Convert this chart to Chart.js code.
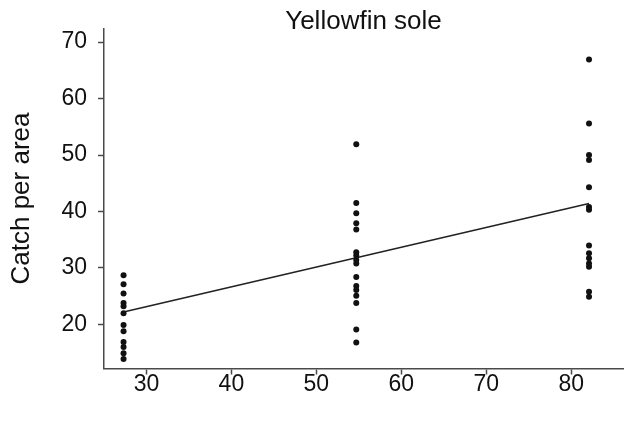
<!DOCTYPE html>
<html>
<head>
<meta charset="utf-8">
<script src="https://cdn.jsdelivr.net/npm/chart.js@4"></script>
<style>
  body { margin: 0; background: #fff; }
  #wrap { width: 627px; height: 421px; }
</style>
</head>
<body>
<div id="wrap"><canvas id="myChart"></canvas></div>
<script>
// depth (x) for each station group
const depths = [27.3, 54.7, 82.1];
// catch per area
const catchShallow = [28.7, 27.1, 25.5, 23.8, 23.2, 22.0, 19.9, 18.8, 16.9, 16.0, 14.9, 13.9];
const catchMid = [51.9, 41.5, 39.7, 37.9, 36.8, 32.8, 32.2, 31.4, 30.8, 28.4, 26.8, 26.1, 25.1, 23.8, 19.1, 16.8];
const catchDeep = [66.9, 55.6, 50.0, 49.1, 44.3, 40.8, 40.3, 34.0, 32.6, 31.7, 30.8, 30.2, 25.8, 24.9];
// fitted line end points
const fitX = [27.3, 82.1];
const fitY = [22.2, 41.4];
const xTicks = [30, 40, 50, 60, 70, 80];
const yTicks = [20, 30, 40, 50, 60, 70];

const points = [];
[catchShallow, catchMid, catchDeep].forEach((col, i) => {
	col.forEach(v => points.push({x: depths[i], y: v}));
});

const font = '"Liberation Sans", Arial, sans-serif';
const axisColor = '#4a4a4a';

const ctx = document.getElementById('myChart');
const plot = new Chart(ctx, {
	type: 'scatter',
	data: {
		datasets: [{
			label: 'catch',
			data: points,
			backgroundColor: '#111',
			borderWidth: 0,
			pointRadius: 3
		}, {
			label: 'fit',
			type: 'line',
			data: fitX.map((x, i) => ({x: x, y: fitY[i]})),
			borderColor: '#222',
			borderWidth: 1.6,
			pointRadius: 0,
			fill: false
		}]
	},
	options: {
		responsive: true,
		maintainAspectRatio: false,
		animation: false,
		layout: { padding: 0 },
		plugins: {
			legend: { display: false },
			tooltip: { enabled: false },
			title: {
				display: true,
				fullSize: false,
				text: 'Yellowfin sole',
				color: '#111',
				font: { family: font, size: 26, weight: 'normal', lineHeight: 0.5 },
				padding: { top: 15.5, bottom: 0 }
			}
		},
		scales: {
			x: {
				type: 'linear',
				min: 25,
				max: 86.1,
				afterBuildTicks: s => { s.ticks = xTicks.map(v => ({value: v})); },
				afterFit: s => { s.height = 52.5; },
				grid: { drawOnChartArea: false, drawTicks: true, tickLength: 6, tickColor: axisColor, tickWidth: 1.5 },
				border: { color: axisColor, width: 1.5 },
				ticks: { color: '#111', font: { family: font, size: 23 }, padding: -4, maxRotation: 0 }
			},
			y: {
				type: 'linear',
				min: 12.2,
				max: 72.4,
				afterBuildTicks: s => { s.ticks = yTicks.map(v => ({value: v})); },
				afterFit: s => { s.width = 104; },
				grid: { drawOnChartArea: false, drawTicks: true, tickLength: 6, tickColor: axisColor, tickWidth: 1.5 },
				border: { color: axisColor, width: 1.5 },
				ticks: { color: '#111', font: { family: font, size: 23 }, padding: 11 },
				title: {
					display: true,
					text: 'Catch per area',
					color: '#111',
					font: { family: font, size: 26 },
					padding: { top: 6, bottom: 0 }
				}
			}
		}
	}
});
</script>
</body>
</html>
